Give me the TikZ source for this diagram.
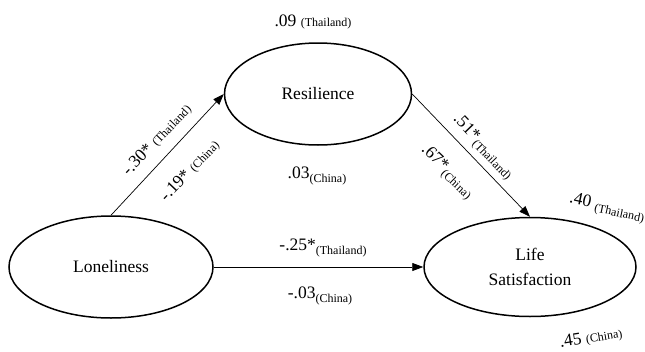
\documentclass[tikz,border=0pt]{standalone}
\usepackage{fontspec}
\setmainfont{Liberation Serif}
\newfontfamily\diagfont{Liberation Serif}
\usetikzlibrary{shapes.geometric,arrows.meta}
\newcommand\smallgrp[1]{{\fontsize{12}{14}\selectfont #1}}
\newcommand\lowgrp[1]{\raisebox{-3.5pt}{\fontsize{12}{14}\selectfont #1}}
\begin{document}
\begin{tikzpicture}[x=1pt,y=-1pt,
  latent/.style={draw,ellipse,line width=1.5pt,inner sep=0pt,align=center,
    font=\diagfont\fontsize{17.5}{25}\selectfont},
  pathline/.style={draw,line width=0.7pt,-{Triangle[length=11pt,width=8pt]}},
  coef/.style={inner sep=0pt,font=\diagfont\fontsize{17.5}{20}\selectfont},
]
\useasboundingbox (0,0) rectangle (645,351);
\node[latent,minimum width=187pt,minimum height=102pt] (res) at (318,94) {Resilience};
\node[latent,minimum width=204pt,minimum height=102pt] (lon) at (111,267) {Loneliness};
\node[latent,minimum width=212pt,minimum height=99pt] (ls) at (530,267) {Life\\Satisfaction};

\draw[pathline] (lon.north) -- (res.west);
\draw[pathline] (res.east) -- (ls.north);
\draw[pathline] (lon.east) -- (ls.west);

\node[coef] (l09) at (313,22) {.09 \smallgrp{(Thailand)}};
\node[coef] (l03) at (317,176) {.03\lowgrp{(China)}};
\node[coef] (l25) at (323,248) {-.25*\lowgrp{(Thailand)}};
\node[coef] (l03b) at (320,296) {-.03\lowgrp{(China)}};
\node[coef,rotate=-12] (l40) at (607,208) {.40 \lowgrp{(Thailand)}};
\node[coef,rotate=9] (l45) at (591,338) {.45 \smallgrp{(China)}};
\node[coef,rotate=46.5] (l30) at (157,140) {-.30* \smallgrp{(Thailand)}};
\node[coef,rotate=46.5] (l19) at (190,171) {-.19* \smallgrp{(China)}};
\node[coef,rotate=-46] (l51) at (483,147) {.51*\lowgrp{(Thailand)}};
\node[coef,rotate=-44] (l67) at (447,172) {.67*\lowgrp{(China)}};
\end{tikzpicture}
\end{document}
